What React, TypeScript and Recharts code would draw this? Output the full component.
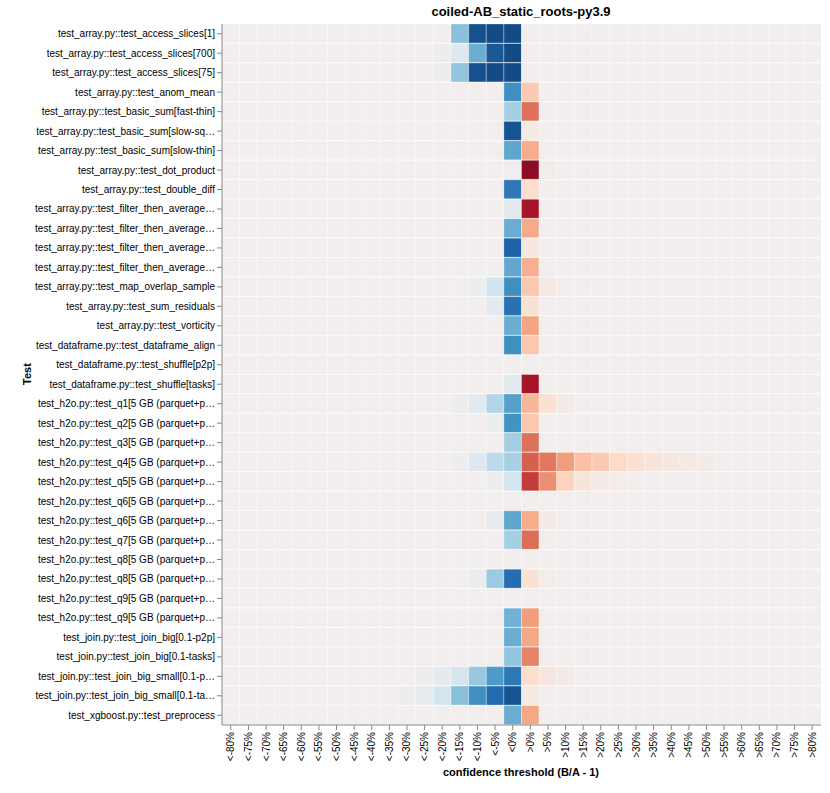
import { Bar, BarChart, Cell, XAxis, YAxis } from "recharts";

const FONT = "'Liberation Sans', Arial, Helvetica, sans-serif";

const tests = [
  "test_array.py::test_access_slices[1]",
  "test_array.py::test_access_slices[700]",
  "test_array.py::test_access_slices[75]",
  "test_array.py::test_anom_mean",
  "test_array.py::test_basic_sum[fast-thin]",
  "test_array.py::test_basic_sum[slow-sq…",
  "test_array.py::test_basic_sum[slow-thin]",
  "test_array.py::test_dot_product",
  "test_array.py::test_double_diff",
  "test_array.py::test_filter_then_average…",
  "test_array.py::test_filter_then_average…",
  "test_array.py::test_filter_then_average…",
  "test_array.py::test_filter_then_average…",
  "test_array.py::test_map_overlap_sample",
  "test_array.py::test_sum_residuals",
  "test_array.py::test_vorticity",
  "test_dataframe.py::test_dataframe_align",
  "test_dataframe.py::test_shuffle[p2p]",
  "test_dataframe.py::test_shuffle[tasks]",
  "test_h2o.py::test_q1[5 GB (parquet+p…",
  "test_h2o.py::test_q2[5 GB (parquet+p…",
  "test_h2o.py::test_q3[5 GB (parquet+p…",
  "test_h2o.py::test_q4[5 GB (parquet+p…",
  "test_h2o.py::test_q5[5 GB (parquet+p…",
  "test_h2o.py::test_q6[5 GB (parquet+p…",
  "test_h2o.py::test_q6[5 GB (parquet+p…",
  "test_h2o.py::test_q7[5 GB (parquet+p…",
  "test_h2o.py::test_q8[5 GB (parquet+p…",
  "test_h2o.py::test_q8[5 GB (parquet+p…",
  "test_h2o.py::test_q9[5 GB (parquet+p…",
  "test_h2o.py::test_q9[5 GB (parquet+p…",
  "test_join.py::test_join_big[0.1-p2p]",
  "test_join.py::test_join_big[0.1-tasks]",
  "test_join.py::test_join_big_small[0.1-p…",
  "test_join.py::test_join_big_small[0.1-ta…",
  "test_xgboost.py::test_preprocess",
];

const thresholds = [
  "<-80%", "<-75%", "<-70%", "<-65%", "<-60%", "<-55%", "<-50%", "<-45%",
  "<-40%", "<-35%", "<-30%", "<-25%", "<-20%", "<-15%", "<-10%", "<-5%",
  "<0%", ">0%", ">5%", ">10%", ">15%", ">20%", ">25%", ">30%", ">35%",
  ">40%", ">45%", ">50%", ">55%", ">60%", ">65%", ">70%", ">75%", ">80%",
];

// per test: first threshold column with a value, then the values from there on
// (negative = B faster, positive = B slower; everything else is 0)
const confidence: [number, number[]][] = [
  [13, [-0.42, -0.88, -0.9, -0.9]],
  [12, [-0.03, -0.13, -0.5, -0.85, -0.9]],
  [12, [-0.03, -0.4, -0.88, -0.9, -0.9]],
  [16, [-0.62, 0.26]],
  [16, [-0.34, 0.55]],
  [16, [-0.87, 0.05]],
  [16, [-0.53, 0.37]],
  [16, [-0.02, 0.9, 0.02]],
  [16, [-0.72, 0.17]],
  [16, [-0.1, 0.83]],
  [16, [-0.5, 0.38]],
  [16, [-0.82, 0.07]],
  [16, [-0.52, 0.36]],
  [14, [-0.03, -0.2, -0.62, 0.27, 0.05]],
  [15, [-0.1, -0.75, 0.13]],
  [16, [-0.5, 0.4]],
  [16, [-0.62, 0.27]],
  [16, []],
  [16, [-0.1, 0.83]],
  [13, [-0.03, -0.1, -0.3, -0.55, 0.33, 0.13, 0.04]],
  [15, [-0.05, -0.6, 0.27]],
  [16, [-0.35, 0.55]],
  [13, [-0.03, -0.12, -0.27, -0.33, 0.6, 0.53, 0.42, 0.3, 0.26, 0.19, 0.14, 0.1, 0.07, 0.05, 0.03]],
  [15, [-0.03, -0.17, 0.7, 0.46, 0.23, 0.09, 0.04, 0.02]],
  [16, []],
  [15, [-0.07, -0.53, 0.37, 0.05]],
  [16, [-0.34, 0.56]],
  [16, []],
  [14, [-0.04, -0.37, -0.77, 0.13, 0.02]],
  [16, []],
  [16, [-0.48, 0.42]],
  [16, [-0.5, 0.39]],
  [16, [-0.4, 0.5]],
  [11, [-0.03, -0.08, -0.17, -0.38, -0.57, -0.72, 0.17, 0.08, 0.04]],
  [10, [-0.03, -0.07, -0.17, -0.42, -0.62, -0.78, -0.87, 0.05]],
  [16, [-0.5, 0.39]],
];

// red-blue diverging scale, blue for negative
const colorStops: [number, string][] = [
  [-1, "#053061"],
  [-0.8, "#2166ac"],
  [-0.6, "#4393c3"],
  [-0.4, "#92c5de"],
  [-0.2, "#d1e5f0"],
  [0, "#f2eeed"],
  [0.2, "#fddbc7"],
  [0.4, "#f4a582"],
  [0.6, "#d6604d"],
  [0.8, "#b2182b"],
  [1, "#67001f"],
];

function hexToRgb(h: string) {
  return [1, 3, 5].map((i) => parseInt(h.slice(i, i + 2), 16));
}

function colorFor(v: number) {
  for (let i = 0; i < colorStops.length - 1; i++) {
    const [a, ca] = colorStops[i];
    const [b, cb] = colorStops[i + 1];
    if (v >= a && v <= b) {
      const t = (v - a) / (b - a);
      const ra = hexToRgb(ca);
      const rb = hexToRgb(cb);
      const rgb = ra.map((x, k) => Math.round(x + (rb[k] - x) * t));
      return `rgb(${rgb.join(",")})`;
    }
  }
  return colorStops[5][1];
}

function cellValue(row: number, col: number) {
  const [start, vals] = confidence[row];
  return vals[col - start] ?? 0;
}

const rows = tests.map((name, i) => {
  const r: Record<string, number | string> = { idx: i, name };
  thresholds.forEach((_, c) => {
    r[`c${c}`] = 1;
  });
  return r;
});

function XTick({ x, y, payload }: any) {
  return (
    <text
      transform={`translate(${x},${y}) rotate(-90)`}
      textAnchor="end"
      dominantBaseline="central"
      fontSize={10}
      fontFamily={FONT}
      fill="#000"
    >
      {thresholds[Math.floor(payload.value)]}
    </text>
  );
}

function YTick({ x, y, payload }: any) {
  return (
    <text
      x={x}
      y={y}
      textAnchor="end"
      dominantBaseline="central"
      fontSize={10}
      fontFamily={FONT}
      fill="#000"
    >
      {tests[payload.value]}
    </text>
  );
}

export default function App() {
  return (
    <div style={{ position: "absolute", left: 0, top: 0, width: 830, height: 793, background: "#fff" }}>
      <BarChart
        width={830}
        height={793}
        data={rows}
        layout="vertical"
        barCategoryGap={0}
        margin={{ top: 24, right: 9, left: 0, bottom: 0 }}
      >
        <XAxis
          type="number"
          domain={[0, thresholds.length]}
          ticks={thresholds.map((_, c) => c + 0.5)}
          interval={0}
          height={68}
          stroke="#888"
          tickSize={5}
          tick={XTick}
        />
        <YAxis
          type="category"
          dataKey="idx"
          width={222}
          interval={0}
          stroke="#888"
          tickSize={5}
          tick={YTick}
        />
        {thresholds.map((t, c) => (
          <Bar
            key={t}
            dataKey={`c${c}`}
            stackId="heat"
            isAnimationActive={false}
            stroke="#ffffff"
            strokeOpacity={0.3}
            strokeWidth={1}
          >
            {rows.map((_, i) => (
              <Cell key={i} fill={colorFor(cellValue(i, c))} />
            ))}
          </Bar>
        ))}
      </BarChart>
      <svg
        width={830}
        height={793}
        style={{ position: "absolute", left: 0, top: 0, pointerEvents: "none" }}
        fontFamily={FONT}
      >
        <text x={521} y={16} textAnchor="middle" fontSize={13} fontWeight="bold">
          coiled-AB_static_roots-py3.9
        </text>
        <text x={521} y={776} textAnchor="middle" fontSize={11} fontWeight="bold">
          confidence threshold (B/A - 1)
        </text>
        <text
          transform="translate(31,374) rotate(-90)"
          textAnchor="middle"
          fontSize={11}
          fontWeight="bold"
        >
          Test
        </text>
      </svg>
    </div>
  );
}
